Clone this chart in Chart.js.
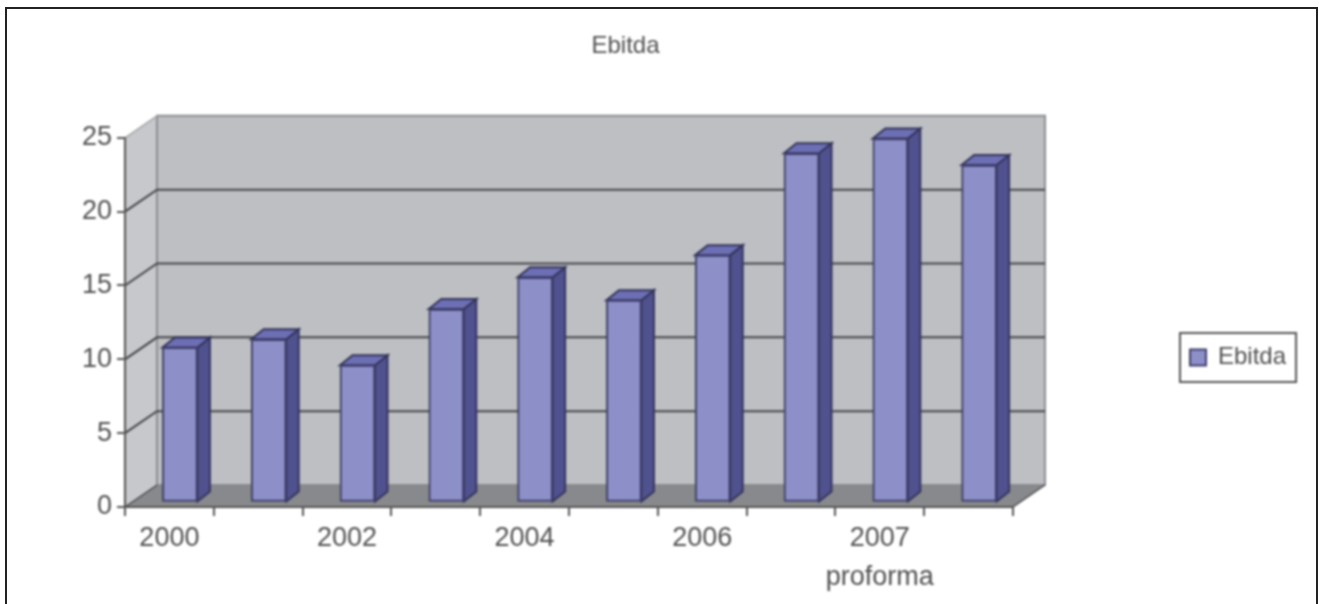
<!DOCTYPE html>
<html>
<head>
<meta charset="utf-8">
<script src="https://cdn.jsdelivr.net/npm/chart.js@4/dist/chart.umd.min.js"></script>
<style>
  html, body { margin: 0; padding: 0; background: #fff; overflow: hidden; }
  #wrap { position: relative; width: 1319px; height: 604px; }
  #frame { position: absolute; left: 5px; top: 7px; width: 1313px; height: 597px; box-sizing: border-box;
           border: 2px solid #222; border-bottom: 0; }
  canvas { position: absolute; left: 0; top: 0; filter: blur(0.8px); }
</style>
</head>
<body>
<div id="wrap">
  <div id="frame"></div>
  <canvas id="ebitdaChart" width="1319" height="604"></canvas>
</div>
<script>
// data
const categories = ["2000", "", "2002", "", "2004", "", "2006", "", ["2007", "proforma"], ""];
const ebitda = [10.5, 11.05, 9.3, 13.1, 15.25, 13.7, 16.75, 23.65, 24.65, 22.85];
const yTicksMax = 25;
const yTicksStep = 5;

// 3d look
const wallDepth = { x: 32, y: -22 };
const barShift = { x: 10.5, y: -4.5 };
const barDepth = { x: 12.5, y: -10 };
const textColor = "#505050";
const axisColor = "#555";

function poly(ctx, pts, fill, stroke, lw) {
  ctx.beginPath();
  pts.forEach((p, i) => i ? ctx.lineTo(p[0], p[1]) : ctx.moveTo(p[0], p[1]));
  ctx.closePath();
  if (fill) { ctx.fillStyle = fill; ctx.fill(); }
  if (stroke) { ctx.strokeStyle = stroke; ctx.lineWidth = lw || 1; ctx.stroke(); }
}

const box3d = {
  id: "box3d",
  afterLayout(chart) {
    // place title and legend where the reference has them
    const t = chart.titleBlock;
    t.left = 2 * 625.5 - chart.width;
    t.right = chart.width;
    const l = chart.legend;
    l.left = 1180;
    l.right = 1180 + l.width;
    l.top = 333 + (49 - l.height) / 2;
    l.bottom = l.top + l.height;
  },
  beforeDraw(chart) {
    const { ctx, chartArea: a, scales } = chart;
    const dx = wallDepth.x, dy = wallDepth.y;
    ctx.save();
    // side wall, back wall, floor
    poly(ctx, [[a.left, a.top], [a.left + dx, a.top + dy], [a.left + dx, a.bottom + dy], [a.left, a.bottom]], "#c6c8cb");
    poly(ctx, [[a.left + dx, a.top + dy], [a.right + dx, a.top + dy], [a.right + dx, a.bottom + dy], [a.left + dx, a.bottom + dy]], "#bdbfc3", "#8b8d91", 2);
    poly(ctx, [[a.left, a.bottom], [a.left + dx, a.bottom + dy], [a.right + dx, a.bottom + dy], [a.right, a.bottom]], "#88898c");
    // grid lines run along the back wall and down the side wall
    scales.y.ticks.forEach(tk => {
      const y = scales.y.getPixelForValue(tk.value);
      if (tk.value === 0 || tk.value === yTicksMax) return;
      ctx.strokeStyle = "#454648";
      ctx.lineWidth = 2;
      ctx.beginPath();
      ctx.moveTo(a.left, y);
      ctx.lineTo(a.left + dx, y + dy);
      ctx.lineTo(a.right + dx, y + dy);
      ctx.stroke();
    });
    ctx.strokeStyle = "#a2a4a8";
    ctx.lineWidth = 1.5;
    ctx.beginPath();
    ctx.moveTo(a.left, a.top);
    ctx.lineTo(a.left + dx, a.top + dy);
    ctx.stroke();
    ctx.strokeStyle = "#454648";
    ctx.beginPath();
    ctx.moveTo(a.left, a.bottom);
    ctx.lineTo(a.left + dx, a.bottom + dy);
    ctx.moveTo(a.right, a.bottom);
    ctx.lineTo(a.right + dx, a.bottom + dy);
    ctx.stroke();
    ctx.restore();
  },
  beforeDatasetsDraw(chart) {
    const { ctx } = chart;
    const meta = chart.getDatasetMeta(0);
    const ddx = barDepth.x, ddy = barDepth.y;
    ctx.save();
    ctx.translate(barShift.x, barShift.y);
    meta.data.forEach(bar => {
      const p = bar.getProps(["x", "y", "base", "width"], true);
      const l = p.x - p.width / 2, r = p.x + p.width / 2;
      poly(ctx, [[r, p.y], [r + ddx, p.y + ddy], [r + ddx, p.base + ddy], [r, p.base]], "#50528f", "#35355c", 2);
      poly(ctx, [[l, p.y], [l + ddx, p.y + ddy], [r + ddx, p.y + ddy], [r, p.y]], "#6d6fb5", "#35355c", 2);
    });
    ctx.restore();
  },
  beforeDatasetDraw(chart) {
    chart.ctx.save();
    chart.ctx.translate(barShift.x, barShift.y);
  },
  afterDatasetDraw(chart) {
    chart.ctx.restore();
  },
  afterDraw(chart) {
    // legend frame
    const { ctx, legend } = chart;
    ctx.save();
    ctx.strokeStyle = "#555";
    ctx.lineWidth = 2;
    ctx.strokeRect(legend.left, 333, legend.width, 49);
    ctx.restore();
  }
};

new Chart("ebitdaChart", {
  type: "bar",
  data: {
    labels: categories,
    datasets: [{
      label: "Ebitda",
      data: ebitda,
      backgroundColor: "#8d8fc9",
      borderColor: "#3f3f6b",
      borderWidth: 2,
      borderSkipped: false,
      barThickness: 35,
      clip: false
    }]
  },
  options: {
    responsive: false,
    animation: false,
    layout: { padding: { left: 0, right: 306, top: 0, bottom: 0 } },
    scales: {
      x: {
        offset: true,
        grid: { offset: true, drawOnChartArea: false, color: axisColor, lineWidth: 2, tickLength: 9 },
        border: { color: axisColor, width: 2 },
        ticks: { autoSkip: false, maxRotation: 0, padding: 4, color: textColor, font: { size: 27, lineHeight: 1.41 } },
        afterFit(s) { s.height = 97; }
      },
      y: {
        min: 0,
        max: yTicksMax,
        grid: { drawOnChartArea: false, color: axisColor, lineWidth: 2, tickLength: 8 },
        border: { color: axisColor, width: 2 },
        ticks: { stepSize: yTicksStep, padding: 5, color: textColor, font: { size: 27 } },
        afterFit(s) { s.width = 125; }
      }
    },
    plugins: {
      title: {
        display: true,
        text: "Ebitda",
        color: textColor,
        font: { size: 24, weight: "normal" },
        padding: { top: 32, bottom: 77 }
      },
      legend: {
        position: "chartArea",
        labels: { color: textColor, font: { size: 24 }, boxWidth: 16, boxHeight: 16, padding: 10 }
      },
      tooltip: { enabled: false }
    }
  },
  plugins: [box3d]
});
</script>
</body>
</html>
